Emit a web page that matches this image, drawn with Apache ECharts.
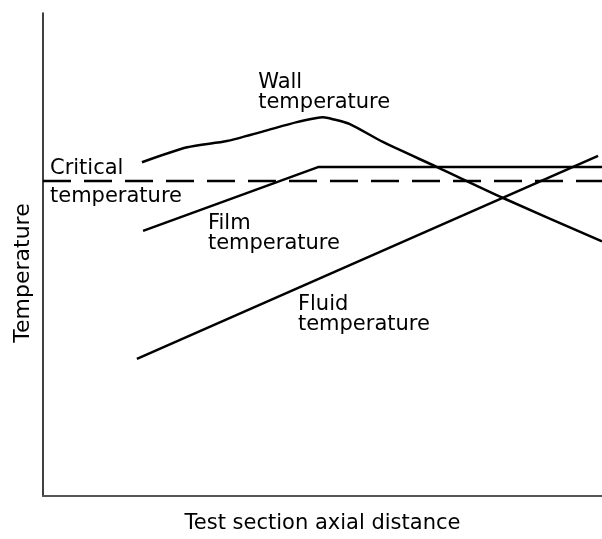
<!DOCTYPE html>
<html>
<head>
<meta charset="utf-8">
<script src="https://cdn.jsdelivr.net/npm/echarts@6/dist/echarts.min.js"></script>
<style>
html,body{margin:0;padding:0;background:#fff;}
#c{width:602px;height:539px;}
</style>
</head>
<body>
<div id="c"></div>
<script>
// ---- data (axial distance %, temperature % of axis range) ----
var wallX  = [17.7, 25.8, 32.9, 39.4, 45.4, 48.7, 50.1, 51.9, 54.9, 60.8, 70.5, 82.3, 100];
var wallY  = [69.1, 72.2, 73.5, 75.5, 77.4, 78.2, 78.4, 78.0, 77.0, 73.3, 68.1, 61.7, 52.7];
var filmX  = [17.9, 49.2, 100];
var filmY  = [54.9, 68.1, 68.1];
var fluidX = [16.8, 99.3];
var fluidY = [28.4, 70.4];
var criticalX = [0, 100];
var criticalY = [65.2, 65.2];
var labelTexts = ['Wall\ntemperature', 'Critical', 'temperature', 'Film\ntemperature', 'Fluid\ntemperature'];
var xAxisTitle = 'Test section axial distance';
var yAxisTitle = 'Temperature';

// annotation anchors (data coords)
var labelAnchors = [[38.5, 87.7], [1.25, 69.9], [1.25, 64.1], [29.5, 58.5], [45.6, 41.7]];

function zip(xs, ys){ return xs.map(function(x,i){ return [x, ys[i]]; }); }

var FONT = "'DejaVu Sans', Verdana, sans-serif";
var FS = 21;
var lineStyle = {color:'#000', width:2.5};

var chart = echarts.init(document.getElementById('c'), null, {renderer:'canvas'});
chart.setOption({
  animation:false,
  backgroundColor:'#fff',
  grid:{left:43, right:0, top:13, bottom:40},
  xAxis:{type:'value', min:0, max:100,
    name:xAxisTitle, nameLocation:'middle', nameGap:17,
    nameTextStyle:{fontFamily:FONT, fontSize:FS, color:'#000', verticalAlign:'top'},
    axisLine:{show:true, lineStyle:{color:'#555', width:2}},
    axisTick:{show:false}, axisLabel:{show:false}, splitLine:{show:false}},
  yAxis:{type:'value', min:0, max:100,
    axisLine:{show:true, lineStyle:{color:'#000', width:1.5}},
    axisTick:{show:false}, axisLabel:{show:false}, splitLine:{show:false}},
  graphic:[{type:'text', x:23, y:273, rotation:Math.PI/2,
    style:{text:yAxisTitle, font: '22px '+FONT, fill:'#000', align:'center', verticalAlign:'middle'}}],
  series:[
    {type:'line', data:zip(wallX, wallY), smooth:0.25, showSymbol:false, lineStyle:lineStyle},
    {type:'line', data:zip(filmX, filmY), showSymbol:false, lineStyle:lineStyle},
    {type:'line', data:zip(fluidX, fluidY), showSymbol:false, lineStyle:lineStyle},
    {type:'line', data:zip(criticalX, criticalY), showSymbol:false,
      lineStyle:{color:'#000', width:2.5, type:[28,13]}},
    {type:'scatter', symbolSize:0, silent:true,
      itemStyle:{opacity:1},
      data: labelAnchors.map(function(p,i){ return {value:p, label:{formatter:labelTexts[i]}}; }),
      label:{show:true, position:[0,0], align:'left', verticalAlign:'top', opacity:1,
        fontFamily:FONT, fontSize:FS, lineHeight:20, color:'#000', textBorderWidth:0}}
  ]
});
</script>
</body>
</html>
